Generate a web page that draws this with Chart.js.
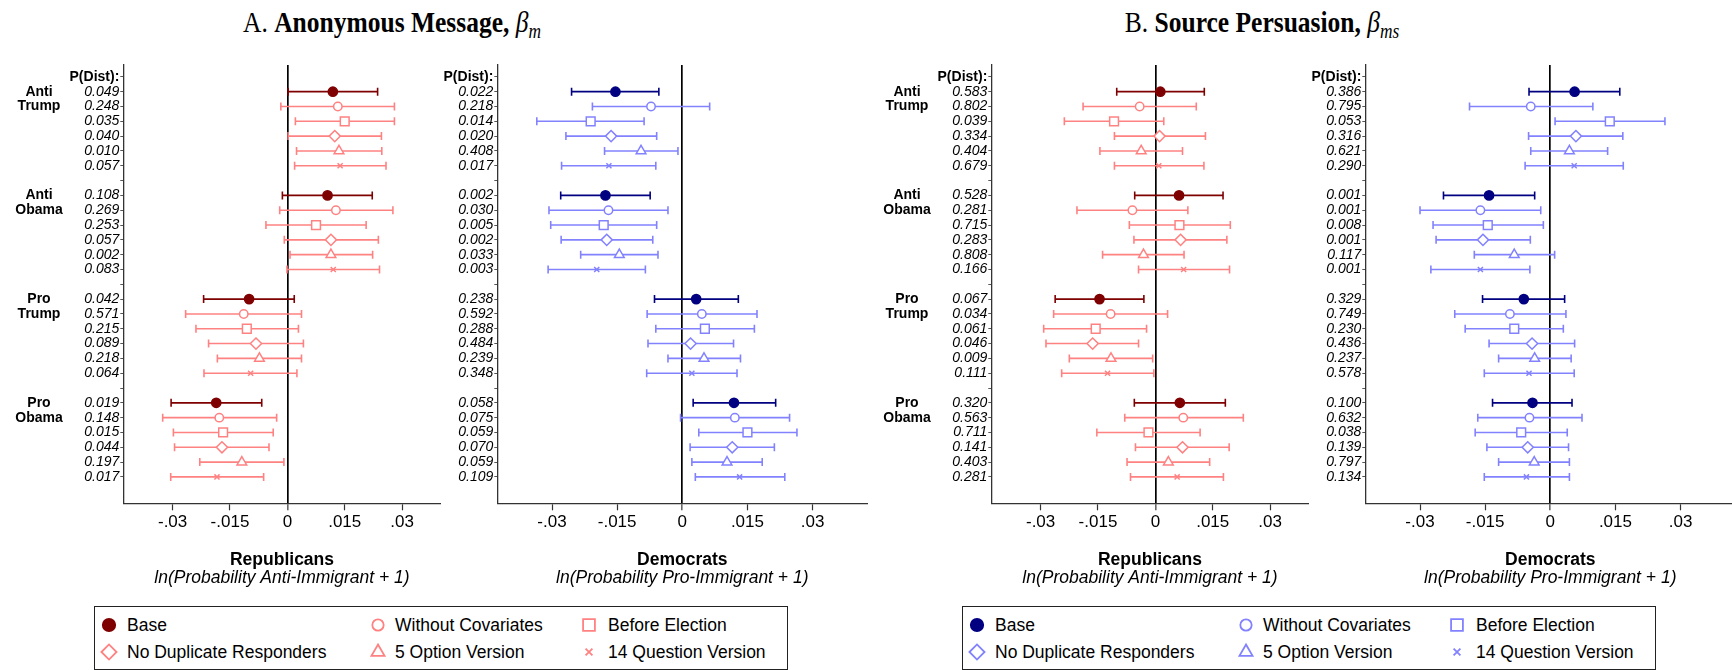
<!DOCTYPE html>
<html>
<head>
<meta charset="utf-8">
<title>Anonymous Message and Source Persuasion</title>
<script src="https://cdn.jsdelivr.net/npm/chart.js@4.4.1/dist/chart.umd.min.js"></script>
<style>
  html, body { margin: 0; padding: 0; background: #fff; overflow: hidden; }
  body { width: 1732px; height: 670px; position: relative; font-family: 'Liberation Sans', Arial, Helvetica, sans-serif; color: #000; }
  canvas.panel { position: absolute; top: 0; }
  .fig-title { position: absolute; top: 5px; transform: translateX(-50%) scaleX(0.85); font-family: 'Liberation Serif', 'Times New Roman', serif; font-size: 30px; white-space: nowrap; }
  .fig-title sub { font-size: 0.68em; vertical-align: -0.3em; }
  .legend { position: absolute; top: 606px; width: 694px; height: 64px; border: 1.5px solid #222; box-sizing: border-box; }
  .legend canvas { position: absolute; }
  .legend span { position: absolute; font-size: 17.5px; line-height: 20px; white-space: nowrap; }
</style>
</head>
<body>

<div class="fig-title" style="left:392px">A. <b>Anonymous Message,</b> <i>β<sub>m</sub></i></div>
<div class="fig-title" style="left:1262px">B. <b>Source Persuasion,</b> <i>β<sub>ms</sub></i></div>

<canvas id="repA" class="panel" width="452" height="600" style="left:0px"></canvas>
<canvas id="demA" class="panel" width="440" height="600" style="left:436px"></canvas>
<canvas id="repB" class="panel" width="452" height="600" style="left:868.4px"></canvas>
<canvas id="demB" class="panel" width="440" height="600" style="left:1304.4px"></canvas>

<div id="legendA" class="legend" style="left:94px"></div>
<div id="legendB" class="legend" style="left:962px"></div>

<script>
// categories
const groupNames = [['Anti', 'Trump'], ['Anti', 'Obama'], ['Pro', 'Trump'], ['Pro', 'Obama']];
const seriesNames = ['Base', 'Without Covariates', 'Before Election',
                     'No Duplicate Responders', '5 Option Version', '14 Question Version'];
const xTickValues = [-0.03, -0.015, 0, 0.015, 0.03];
const xTickLabels = ['-.03', '-.015', '0', '.015', '.03'];

// A. Anonymous message, Republicans (order: group, then series)
const repA_est = [0.0119, 0.0132, 0.0150, 0.0124, 0.0135, 0.0138,
                  0.0105, 0.0127, 0.0075, 0.0114, 0.0114, 0.0120,
                  -0.0100, -0.0114, -0.0106, -0.0082, -0.0073, -0.0096,
                  -0.0186, -0.0178, -0.0168, -0.0171, -0.0119, -0.0184];
const repA_lo = [0.0002, -0.0017, 0.0021, 0.0002, 0.0024, 0.0019,
                 -0.0013, -0.0020, -0.0056, -0.0008, 0.0007, -0.0001,
                 -0.0219, -0.0266, -0.0239, -0.0206, -0.0183, -0.0218,
                 -0.0304, -0.0326, -0.0298, -0.0295, -0.0229, -0.0305];
const repA_hi = [0.0236, 0.0280, 0.0280, 0.0246, 0.0247, 0.0258,
                 0.0222, 0.0276, 0.0206, 0.0238, 0.0223, 0.0241,
                 0.0018, 0.0037, 0.0029, 0.0042, 0.0037, 0.0025,
                 -0.0067, -0.0028, -0.0037, -0.0048, -0.0009, -0.0062];
const repA_p = ['0.049', '0.248', '0.035', '0.040', '0.010', '0.057',
                '0.108', '0.269', '0.253', '0.057', '0.002', '0.083',
                '0.042', '0.571', '0.215', '0.089', '0.218', '0.064',
                '0.019', '0.148', '0.015', '0.044', '0.197', '0.017'];

// A. Anonymous message, Democrats
const demA_est = [-0.0154, -0.0072, -0.0211, -0.0164, -0.0095, -0.0169,
                  -0.0177, -0.0170, -0.0181, -0.0174, -0.0145, -0.0197,
                  0.0032, 0.0045, 0.0052, 0.0019, 0.0050, 0.0022,
                  0.0119, 0.0121, 0.0150, 0.0115, 0.0103, 0.0132];
const demA_lo = [-0.0255, -0.0207, -0.0335, -0.0268, -0.0179, -0.0278,
                 -0.0280, -0.0307, -0.0303, -0.0279, -0.0234, -0.0309,
                 -0.0064, -0.0081, -0.0061, -0.0079, -0.0033, -0.0082,
                 0.0025, -0.0004, 0.0038, 0.0018, 0.0022, 0.0030];
const demA_hi = [-0.0054, 0.0063, -0.0088, -0.0059, -0.0010, -0.0061,
                 -0.0074, -0.0033, -0.0059, -0.0068, -0.0056, -0.0085,
                 0.0129, 0.0172, 0.0166, 0.0118, 0.0134, 0.0126,
                 0.0215, 0.0247, 0.0264, 0.0212, 0.0184, 0.0236];
const demA_p = ['0.022', '0.218', '0.014', '0.020', '0.408', '0.017',
                '0.002', '0.030', '0.005', '0.002', '0.033', '0.003',
                '0.238', '0.592', '0.288', '0.484', '0.239', '0.348',
                '0.058', '0.075', '0.059', '0.070', '0.059', '0.109'];

// B. Source persuasion, Republicans
const repB_est = [0.0013, -0.0041, -0.0108, 0.0011, -0.0037, 0.0009,
                  0.0062, -0.0060, 0.0063, 0.0066, -0.0031, 0.0074,
                  -0.0146, -0.0117, -0.0156, -0.0164, -0.0116, -0.0125,
                  0.0064, 0.0073, -0.0018, 0.0071, 0.0034, 0.0057];
const repB_lo = [-0.0101, -0.0189, -0.0238, -0.0107, -0.0145, -0.0107,
                 -0.0054, -0.0205, -0.0068, -0.0056, -0.0138, -0.0044,
                 -0.0262, -0.0266, -0.0292, -0.0286, -0.0225, -0.0245,
                 -0.0055, -0.0080, -0.0153, -0.0052, -0.0074, -0.0065];
const repB_hi = [0.0128, 0.0107, 0.0022, 0.0131, 0.0071, 0.0127,
                 0.0177, 0.0085, 0.0196, 0.0187, 0.0075, 0.0194,
                 -0.0030, 0.0032, -0.0023, -0.0044, -0.0007, -0.0004,
                 0.0183, 0.0230, 0.0117, 0.0193, 0.0142, 0.0178];
const repB_p = ['0.583', '0.802', '0.039', '0.334', '0.404', '0.679',
                '0.528', '0.281', '0.715', '0.283', '0.808', '0.166',
                '0.067', '0.034', '0.061', '0.046', '0.009', '0.111',
                '0.320', '0.563', '0.711', '0.141', '0.403', '0.281'];

// B. Source persuasion, Democrats
const demB_est = [0.0056, -0.0045, 0.0137, 0.0059, 0.0044, 0.0055,
                  -0.0141, -0.0161, -0.0144, -0.0155, -0.0083, -0.0161,
                  -0.0061, -0.0093, -0.0083, -0.0042, -0.0036, -0.0049,
                  -0.0041, -0.0048, -0.0067, -0.0052, -0.0037, -0.0055];
const demB_lo = [-0.0049, -0.0186, 0.0011, -0.0050, -0.0045, -0.0058,
                 -0.0246, -0.0300, -0.0270, -0.0263, -0.0175, -0.0275,
                 -0.0156, -0.0220, -0.0196, -0.0141, -0.0119, -0.0152,
                 -0.0133, -0.0167, -0.0173, -0.0146, -0.0119, -0.0152];
const demB_hi = [0.0160, 0.0098, 0.0264, 0.0167, 0.0132, 0.0168,
                 -0.0036, -0.0022, -0.0016, -0.0046, 0.0010, -0.0047,
                 0.0033, 0.0036, 0.0030, 0.0056, 0.0048, 0.0055,
                 0.0050, 0.0073, 0.0039, 0.0042, 0.0044, 0.0044];
const demB_p = ['0.386', '0.795', '0.053', '0.316', '0.621', '0.290',
                '0.001', '0.001', '0.008', '0.001', '0.117', '0.001',
                '0.329', '0.749', '0.230', '0.436', '0.237', '0.578',
                '0.100', '0.632', '0.038', '0.139', '0.797', '0.134'];

// styles
const FONT = "'Liberation Sans', Arial, Helvetica, sans-serif";
const pointStyles = ['circle', 'circle', 'rect', 'rectRot', 'triangle', 'crossRot'];
const markerRadius = [4.6, 4.2, 6.2, 5.6, 5.6, 3.6];
const redColors = { dark: '#7f0000', light: '#ff8282' };
const blueColors = { dark: '#000080', light: '#8282ff' };

// a row per series, one empty row between groups, row 0 holds the "P(Dist):" heading
const rowOf = (g, s) => 1 + g * 7 + s;
const rowValues = Array.from({ length: 28 }, (_, i) => i);

function rowLabel(pLabels, v) {
    if (v === 0) return 'P(Dist):';
    const s = (v - 1) % 7, g = Math.floor((v - 1) / 7);
    return s === 6 ? '' : pLabels[g * 6 + s];
}

// bold group names left of the P(Dist) column
const groupLabelPlugin = {
    id: 'groupLabels',
    afterDraw(chart, args, opts) {
        if (!opts.show) return;
        const yScale = chart.scales.y;
        const ctx = chart.ctx;
        ctx.save();
        ctx.font = 'bold 14px ' + FONT;
        ctx.fillStyle = '#000';
        ctx.textAlign = 'center';
        ctx.textBaseline = 'middle';
        groupNames.forEach((lines, g) => {
            lines.forEach((t, k) => ctx.fillText(t, opts.x, yScale.getPixelForValue(rowOf(g, k))));
        });
        ctx.restore();
    }
};

function buildDatasets(pn) {
    const ds = [];
    seriesNames.forEach((name, s) => {
        const col = s === 0 ? pn.colors.dark : pn.colors.light;
        const pts = [], seg = [];
        groupNames.forEach((gn, g) => {
            const i = g * 6 + s, row = rowOf(g, s);
            pts.push({ x: pn.est[i], y: row });
            seg.push({ x: pn.lo[i], y: row }, { x: pn.hi[i], y: row }, { x: null, y: null });
        });
        ds.push({
            type: 'scatter', label: name, data: pts, order: 0,
            pointStyle: pointStyles[s], pointRadius: markerRadius[s],
            pointBackgroundColor: s === 0 ? col : '#ffffff',
            pointBorderColor: col, pointBorderWidth: 1.5
        });
        ds.push({
            type: 'line', label: name + ' CI', data: seg, order: 1,
            borderColor: col, borderWidth: 1.6, fill: false, spanGaps: false, tension: 0,
            pointStyle: 'line', pointRotation: 90, pointRadius: 4,
            pointBorderColor: col, pointBorderWidth: 1.6
        });
    });
    return ds;
}

const panels = [
    { id: 'repA', est: repA_est, lo: repA_lo, hi: repA_hi, p: repA_p, colors: redColors,
      xMin: -0.0429, xMax: 0.0401, axisW: 123.3, padRight: 11.3, groups: true,
      title: 'Republicans', sub: 'ln(Probability Anti-Immigrant + 1)' },
    { id: 'demA', est: demA_est, lo: demA_lo, hi: demA_hi, p: demA_p, colors: blueColors,
      xMin: -0.0426, xMax: 0.0426, axisW: 61.3, padRight: 8.7, groups: false,
      title: 'Democrats', sub: 'ln(Probability Pro-Immigrant + 1)' },
    { id: 'repB', est: repB_est, lo: repB_lo, hi: repB_hi, p: repB_p, colors: redColors,
      xMin: -0.0429, xMax: 0.0401, axisW: 123.3, padRight: 11.3, groups: true,
      title: 'Republicans', sub: 'ln(Probability Anti-Immigrant + 1)' },
    { id: 'demB', est: demB_est, lo: demB_lo, hi: demB_hi, p: demB_p, colors: blueColors,
      xMin: -0.0426, xMax: 0.0426, axisW: 61.3, padRight: 8.7, groups: false,
      title: 'Democrats', sub: 'ln(Probability Pro-Immigrant + 1)' }
];

panels.forEach(pn => {
    new Chart(document.getElementById(pn.id), {
        type: 'scatter',
        data: { datasets: buildDatasets(pn) },
        plugins: [groupLabelPlugin],
        options: {
            responsive: false,
            animation: false,
            events: [],
            layout: { padding: { left: 0, top: 65, right: pn.padRight, bottom: 13.25 } },
            scales: {
                x: {
                    type: 'linear', min: pn.xMin, max: pn.xMax,
                    afterBuildTicks: sc => { sc.ticks = xTickValues.map(v => ({ value: v })); },
                    afterFit: sc => { sc.height = 30; },
                    ticks: {
                        autoSkip: false, maxRotation: 0, padding: 2, color: '#000',
                        font: { family: FONT, size: 17 },
                        callback: v => { const k = xTickValues.indexOf(v); return k < 0 ? '' : xTickLabels[k]; }
                    },
                    grid: {
                        drawOnChartArea: true,
                        color: c => (c.tick && c.tick.value === 0) ? '#000' : 'rgba(0,0,0,0)',
                        lineWidth: c => (c.tick && c.tick.value === 0) ? 1.7 : 1,
                        tickColor: '#333', tickLength: 7, tickWidth: 1.2
                    },
                    border: { color: '#333', width: 1.3 }
                },
                y: {
                    type: 'linear', reverse: true, min: -0.8, max: 28.78,
                    afterBuildTicks: sc => { sc.ticks = rowValues.map(v => ({ value: v })); },
                    afterFit: sc => { sc.width = pn.axisW; },
                    ticks: {
                        autoSkip: false, padding: 1, color: '#000',
                        callback: v => rowLabel(pn.p, v),
                        font: c => (c.tick && c.tick.value === 0)
                            ? { family: FONT, size: 14, weight: 'bold' }
                            : { family: FONT, size: 14, style: 'italic' }
                    },
                    grid: { drawOnChartArea: false, tickLength: 3, tickColor: '#555', tickWidth: 1 },
                    border: { color: '#333', width: 1.3 }
                }
            },
            plugins: {
                legend: { display: false },
                tooltip: { enabled: false },
                subtitle: {
                    display: true, position: 'bottom', fullSize: false, text: pn.title, color: '#000',
                    font: { family: FONT, size: 17.5, weight: 'bold', lineHeight: 1 },
                    padding: { top: 17.95, bottom: 0 }
                },
                title: {
                    display: true, position: 'bottom', fullSize: false, text: pn.sub, color: '#000',
                    font: { family: FONT, size: 17.5, weight: 'normal', style: 'italic', lineHeight: 1 },
                    padding: { top: 0.5, bottom: 0 }
                },
                groupLabels: { show: pn.groups, x: 39 }
            }
        }
    });
});

// legends: 3 columns x 2 rows, marker drawn with Chart.js point helper
const legendMarkerX = [13.5, 282.5, 494];
const legendTextX = [32, 300, 513];
const legendRowY = [17.8, 44.8];

function buildLegend(el, colors) {
    seriesNames.forEach((name, s) => {
        const col = s % 3, row = Math.floor(s / 3);
        const color = s === 0 ? colors.dark : colors.light;
        const cv = document.createElement('canvas');
        cv.width = 24; cv.height = 24;
        cv.style.left = (legendMarkerX[col] - 12) + 'px';
        cv.style.top = (legendRowY[row] - 12) + 'px';
        el.appendChild(cv);
        const ctx = cv.getContext('2d');
        ctx.strokeStyle = color;
        ctx.fillStyle = s === 0 ? color : '#ffffff';
        ctx.lineWidth = 1.8;
        const opts = { pointStyle: pointStyles[s], radius: markerRadius[s] * 1.35, rotation: 0, borderWidth: 1.8 };
        if (Chart.helpers && Chart.helpers.drawPoint) {
            Chart.helpers.drawPoint(ctx, opts, 12, 12);
        } else {
            ctx.beginPath(); ctx.arc(12, 12, opts.radius, 0, Math.PI * 2); ctx.fill(); ctx.stroke();
        }
        const sp = document.createElement('span');
        sp.textContent = name;
        sp.style.left = legendTextX[col] + 'px';
        sp.style.top = (legendRowY[row] - 10) + 'px';
        el.appendChild(sp);
    });
}
buildLegend(document.getElementById('legendA'), redColors);
buildLegend(document.getElementById('legendB'), blueColors);
</script>
</body>
</html>
